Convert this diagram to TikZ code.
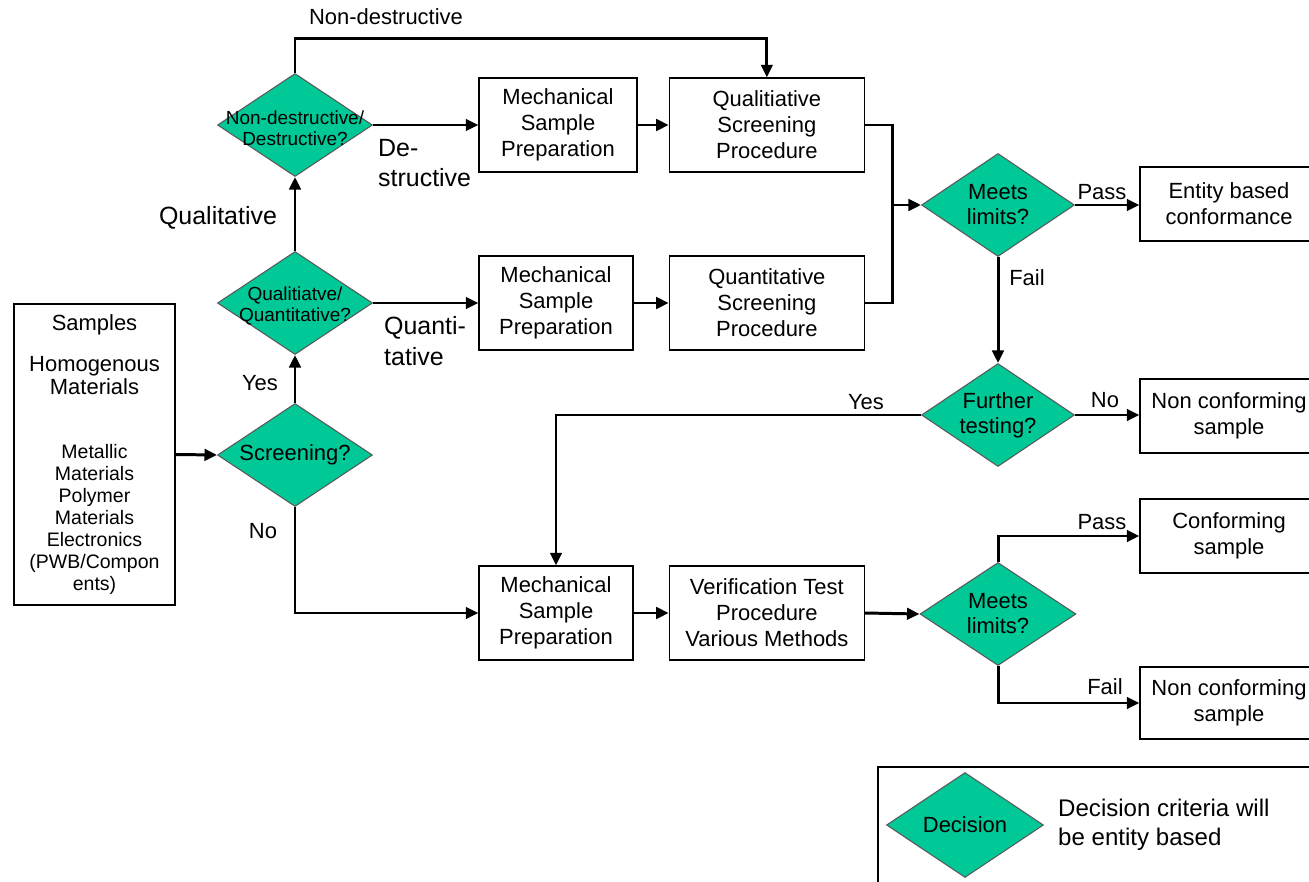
\documentclass[tikz,border=0pt]{standalone}
\usepackage{fontspec}
\setmainfont{Liberation Sans}
\usetikzlibrary{arrows.meta,positioning,shapes.geometric}
\definecolor{decgreen}{RGB}{0,200,150}
\tikzset{
    box/.style = {
        draw,
        line width=0.8pt,
        align=center,
        minimum height=1.88cm,
        font=\fontsize{12.5}{14.8}\selectfont,
        },
    decision/.style = {
        diamond,
        draw=black!65,
        line width=0.6pt,
        fill=decgreen,
        minimum width=3.1cm,
        minimum height=2.06cm,
        inner sep=0pt,
        },
    dtext/.style = {
        align=center,
        font=\fontsize{12.5}{14.2}\selectfont,
        },
    dsmall/.style = {
        align=center,
        font=\fontsize{10.8}{12.2}\selectfont,
        },
    lbl/.style = {
        font=\fontsize{12.5}{15}\selectfont,
        },
    big/.style = {
        align=left,
        font=\fontsize{14.2}{17.4}\selectfont,
        },
    flow/.style = {
        line width=1.7pt,
        -{Triangle[length=0.25cm,width=0.23cm]},
        },
    link/.style = {
        line width=1.7pt,
        },
}
\begin{document}
\begin{tikzpicture}[x=0.02cm, y=-0.02cm]
            \useasboundingbox (0,0) rectangle (1309,882);

            \node[box, minimum width=3.22cm, minimum height=6.02cm, font=\fontsize{11.1}{12.5}\selectfont] (S) at (94.5,454.5)
                {{\fontsize{12.5}{15}\selectfont Samples}\\[10.8pt]
                 {\fontsize{12.5}{15}\selectfont Homogenous}\\[1.1pt]
                 {\fontsize{12.5}{15}\selectfont Materials}\\[23.9pt]
                 Metallic\\Materials\\Polymer\\Materials\\Electronics\\(PWB/Compon\\ents)};

            \node[decision, label={[dtext]center:Screening?}] (Scr) at (295,455) {};
            \node[decision, label={[dsmall, yshift=-0.06cm]center:Qualitiatve/\\Quantitative?}] (QQ) at (295,303) {};
            \node[decision, label={[dsmall, yshift=-0.06cm]center:Non-destructive/\\Destructive?}] (ND) at (295,125) {};

            \node[box, minimum width=3.16cm] (M1) at (558,125) {Mechanical\\Sample\\Preparation};
            \node[box, minimum width=3.9cm, right=0.62cm of M1] (Q1) {Qualitiative\\Screening\\Procedure};
            \node[box, minimum width=3.08cm] (M2) at (556,303) {Mechanical\\Sample\\Preparation};
            \node[box, minimum width=3.9cm, right=0.7cm of M2] (Q2) {Quantitative\\Screening\\Procedure};
            \node[box, minimum width=3.08cm] (M3) at (556,613) {Mechanical\\Sample\\Preparation};
            \node[box, minimum width=3.9cm, right=0.7cm of M3] (V) {Verification Test\\Procedure\\Various Methods};

            \node[decision, minimum width=3.06cm, label={[dtext]center:Meets\\limits?}] (L1) at (998,205) {};
            \node[decision, minimum width=3.06cm, label={[dtext]center:Further\\testing?}] (F) at (998,415) {};
            \node[decision, minimum width=3.12cm, label={[dtext]center:Meets\\limits?}] (L2) at (998,614) {};

            \node[box, minimum width=3.56cm, minimum height=1.48cm] (E) at (1229,204) {Entity based\\conformance};
            \node[box, minimum width=3.56cm, minimum height=1.48cm] (N1) at (1229,416) {Non conforming\\sample};
            \node[box, minimum width=3.56cm, minimum height=1.48cm] (C) at (1229,536) {Conforming\\sample};
            \node[box, minimum width=3.56cm, minimum height=1.44cm] (N2) at (1229,703) {Non conforming\\sample};

            \draw[line width=0.8pt] (878,767) rectangle (1340,900);
            \node[decision, minimum width=3.14cm, minimum height=2.1cm, label={[dtext]center:Decision}] (Dl) at (965,825) {};
            \node[anchor=west, align=left, font=\fontsize{13.7}{16.5}\selectfont] (Dt) at (1052,825) {Decision criteria will\\be entity based};

            \node[lbl] (tND) at (386,17) {Non-destructive};
            \node[big] (tQl) at (218,218) {Qualitative};
            \node[big, anchor=west] (tDe) at (372,163) {De-\\structive};
            \node[big, anchor=west] (tQn) at (378,341) {Quanti-\\tative};
            \node[lbl] (tY1) at (260,383) {Yes};
            \node[lbl] (tN1) at (263,531) {No};
            \node[lbl] (tP1) at (1102,192) {Pass};
            \node[lbl] (tF1) at (1027,278) {Fail};
            \node[lbl] (tN2) at (1105,400) {No};
            \node[lbl] (tY2) at (866,402) {Yes};
            \node[lbl] (tP2) at (1102,522) {Pass};
            \node[lbl] (tF2) at (1105,687) {Fail};

            \coordinate (J) at (892,205);

            \draw[flow] (S.east) -- (Scr.west);
            \draw[flow] (Scr.north) -- (QQ.south);
            \draw[flow] (QQ.north) -- (ND.south);
            \draw[flow] (ND.north) -- ++(0,-34) -| (Q1.north);
            \draw[flow] (ND.east) -- (M1.west);
            \draw[flow] (M1.east) -- (Q1.west);
            \draw[flow] (QQ.east) -- (M2.west);
            \draw[flow] (M2.east) -- (Q2.west);
            \draw[flow] (Scr.south) |- (M3.west);
            \draw[flow] (M3.east) -- (V.west);
            \draw[link] (Q1.east) -| (J);
            \draw[link] (Q2.east) -| (J);
            \draw[flow] (J) -- (L1.west);
            \draw[flow] (L1.east) -- (L1.east -| E.west);
            \draw[flow] (L1.south) -- (F.north);
            \draw[flow] (F.east) -- (F.east -| N1.west);
            \draw[flow] (F.west) -| (M3.north);
            \draw[flow] (V.east) -- (L2.west);
            \draw[flow] (L2.north) |- (C.west);
            \draw[flow] (L2.south) |- (N2.west);
        \end{tikzpicture}
\end{document}
